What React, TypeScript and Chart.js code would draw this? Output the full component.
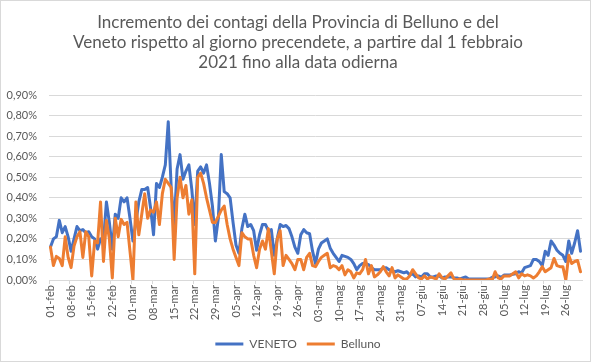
import React, { useEffect, useRef } from 'react';
import { Chart, registerables } from 'chart.js';

Chart.register(...registerables);

const FONT = 'Lato, "Liberation Sans", sans-serif';
const TEXT_COLOR = '#595959';
const GRID_COLOR = '#d9d9d9';

const TITLE_LINES = [
  'Incremento dei contagi della Provincia di Belluno e del',
  'Veneto rispetto al giorno precendete, a partire dal 1 febbraio',
  '2021 fino alla data odierna',
];

const MONTHS = ['feb', 'mar', 'apr', 'mag', 'giu', 'lug'];
const MONTH_DAYS = [28, 31, 30, 31, 30, 31];
const DATES: string[] = [];
MONTHS.forEach((m, i) => {
  for (let d = 1; d <= MONTH_DAYS[i]; d++) DATES.push(String(d).padStart(2, '0') + '-' + m);
});

const VENETO = [
  0.16, 0.20, 0.21, 0.29, 0.23, 0.26, 0.21,
  0.14, 0.20, 0.26, 0.24, 0.245, 0.23, 0.235,
  0.21, 0.20, 0.15, 0.20, 0.19, 0.38, 0.28,
  0.15, 0.32, 0.30, 0.40, 0.38, 0.40, 0.30,
  0.19, 0.28, 0.38, 0.44, 0.44, 0.45, 0.35,
  0.22, 0.47, 0.45, 0.50, 0.56, 0.77, 0.45,
  0.27, 0.54, 0.61, 0.49, 0.53, 0.56, 0.44,
  0.27, 0.53, 0.55, 0.52, 0.56, 0.47, 0.36,
  0.19, 0.30, 0.61, 0.43, 0.42, 0.40, 0.28,
  0.17, 0.13, 0.25, 0.32, 0.26, 0.27, 0.24,
  0.145, 0.22, 0.27, 0.27, 0.24, 0.245, 0.12,
  0.20, 0.27, 0.26, 0.265, 0.25, 0.21, 0.16,
  0.13, 0.22, 0.245, 0.23, 0.225, 0.14, 0.08,
  0.15, 0.18, 0.19, 0.20, 0.155, 0.13, 0.11,
  0.09, 0.12, 0.115, 0.11, 0.10, 0.08, 0.05,
  0.07, 0.08, 0.08, 0.075, 0.06, 0.05, 0.05,
  0.05, 0.057, 0.06, 0.05, 0.045, 0.04, 0.045,
  0.04, 0.035, 0.04, 0.025, 0.03, 0.015, 0.02,
  0.015, 0.03, 0.03, 0.015, 0.015, 0.02, 0.02,
  0.01, 0.015, 0.015, 0.015, 0.01, 0.01, 0.005,
  0.01, 0.015, 0.005, 0.005, 0.005, 0.005, 0.005,
  0.005, 0.005, 0.005, 0.013, 0.015, 0.02, 0.013,
  0.024, 0.024, 0.024, 0.028, 0.03, 0.04, 0.035,
  0.06, 0.065, 0.07, 0.10, 0.10, 0.09, 0.07,
  0.14, 0.12, 0.19, 0.17, 0.145, 0.13, 0.12,
  0.09, 0.19, 0.13, 0.18, 0.24, 0.14,
];

const BELLUNO = [
  0.16, 0.07, 0.115, 0.105, 0.07, 0.21, 0.11,
  0.06, 0.165, 0.21, 0.235, 0.11, 0.235, 0.21,
  0.02, 0.19, 0.18, 0.38, 0.09, 0.29, 0.20,
  0.01, 0.30, 0.21, 0.295, 0.27, 0.28, 0.14,
  0.0, 0.38, 0.22, 0.32, 0.42, 0.30, 0.34,
  0.33, 0.38, 0.27, 0.42, 0.49, 0.47, 0.45,
  0.10, 0.40, 0.50, 0.40, 0.46, 0.32, 0.39,
  0.03, 0.50, 0.52, 0.47, 0.40, 0.34, 0.28,
  0.28, 0.31, 0.34, 0.36, 0.27, 0.20, 0.15,
  0.11, 0.07, 0.23, 0.21, 0.20, 0.20, 0.12,
  0.06, 0.15, 0.19, 0.15, 0.25, 0.14, 0.03,
  0.20, 0.24, 0.07, 0.12, 0.10, 0.08, 0.05,
  0.10, 0.10, 0.05, 0.11, 0.13, 0.07, 0.065,
  0.09, 0.11, 0.12, 0.13, 0.06, 0.07, 0.065,
  0.05, 0.07, 0.025, 0.05, 0.04, 0.01, 0.035,
  0.03, 0.05, 0.10, 0.03, 0.07, 0.015, 0.025,
  0.04, 0.065, 0.04, 0.02, 0.06, 0.01, 0.025,
  0.015, 0.005, 0.005, 0.02, 0.05, 0.03, 0.01,
  0.005, 0.02, 0.005, 0.015, 0.01, 0.005, 0.03,
  0.01, 0.005, 0.02, 0.035, 0.005, 0.0, 0.005,
  0.0, 0.0, 0.0, 0.0, 0.0, 0.0, 0.0,
  0.0, 0.0, 0.005, 0.0, 0.04, 0.01, 0.005,
  0.02, 0.02, 0.02, 0.03, 0.04, 0.01, 0.03,
  0.02, 0.025, 0.02, 0.01, 0.02, 0.04, 0.065,
  0.04, 0.05, 0.06, 0.105, 0.07, 0.065, 0.065,
  0.0, 0.12, 0.08, 0.09, 0.095, 0.04,
];

const SERIES_NAMES = ['VENETO', 'Belluno'];
const SERIES_COLORS = ['#4472C4', '#ED7D31'];
const Y_MAX = 0.9;
const Y_STEP = 0.1;
const LABEL_EVERY = 7;

const borderPlugin = {
  id: 'outerBorder',
  beforeDraw(chart: any) {
    const ctx = chart.ctx;
    ctx.save();
    ctx.fillStyle = '#ffffff';
    ctx.fillRect(0, 0, chart.width, chart.height);
    ctx.strokeStyle = GRID_COLOR;
    ctx.lineWidth = 1;
    ctx.strokeRect(0.5, 0.5, 590, 361);
    ctx.restore();
  },
};

export default function App() {
  const ref = useRef<HTMLCanvasElement | null>(null);

  useEffect(() => {
    if (!ref.current) return;
    const chart = new Chart(ref.current, {
      type: 'line',
      data: {
        labels: DATES,
        datasets: [
          {
            label: SERIES_NAMES[0],
            data: VENETO,
            borderColor: SERIES_COLORS[0],
            backgroundColor: SERIES_COLORS[0],
            borderWidth: 3,
            pointRadius: 0,
            tension: 0,
            borderJoinStyle: 'round',
            borderCapStyle: 'round',
            order: 1,
          },
          {
            label: SERIES_NAMES[1],
            data: BELLUNO,
            borderColor: SERIES_COLORS[1],
            backgroundColor: SERIES_COLORS[1],
            borderWidth: 3,
            pointRadius: 0,
            tension: 0,
            borderJoinStyle: 'round',
            borderCapStyle: 'round',
            order: 0,
          },
        ],
      },
      options: {
        responsive: false,
        animation: false,
        layout: { padding: { left: 0, right: 0, top: 0, bottom: 4 } },
        plugins: {
          title: {
            display: true,
            text: TITLE_LINES,
            color: TEXT_COLOR,
            font: { family: FONT, size: 17, weight: 'normal', lineHeight: '19.75px' },
            padding: { top: 13, bottom: 22.75 },
          },
          legend: {
            display: true,
            position: 'bottom',
            labels: {
              usePointStyle: true,
              pointStyle: 'line',
              pointStyleWidth: 28,
              color: TEXT_COLOR,
              font: { family: FONT, size: 12 },
              padding: 10,
              sort: (a: any, b: any) => a.datasetIndex - b.datasetIndex,
            },
          },
          tooltip: { enabled: false },
        },
        scales: {
          x: {
            type: 'category',
            offset: true,
            grid: {
              display: true,
              drawOnChartArea: false,
              drawTicks: true,
              tickLength: 4,
              offset: true,
              color: (ctx: any) =>
                typeof ctx.index === 'number' && ctx.index % LABEL_EVERY === 0 ? GRID_COLOR : 'rgba(0,0,0,0)',
            },
            border: { display: true, color: GRID_COLOR, width: 1 },
            ticks: {
              autoSkip: false,
              maxRotation: 90,
              minRotation: 90,
              padding: 1,
              color: TEXT_COLOR,
              font: { family: FONT, size: 11 },
              callback: (_v: any, i: number) => (i % LABEL_EVERY === 0 ? DATES[i] : ''),
            },
            afterFit: (s: any) => {
              s.height = 48;
            },
          },
          y: {
            type: 'linear',
            position: 'left',
            min: 0,
            max: Y_MAX,
            grid: { color: GRID_COLOR, lineWidth: 1, drawTicks: false },
            border: { display: false },
            ticks: {
              stepSize: Y_STEP,
              padding: 12,
              color: TEXT_COLOR,
              font: { family: FONT, size: 11 },
              callback: (v: any) => Number(v).toFixed(2).replace('.', ',') + '%',
            },
            afterFit: (s: any) => {
              s.width = 49;
            },
          },
          yRight: {
            type: 'linear',
            position: 'right',
            display: true,
            grid: { display: false, drawTicks: false },
            border: { display: false },
            ticks: { display: false },
            afterFit: (s: any) => {
              s.width = 14;
            },
          },
        },
      },
      plugins: [borderPlugin],
    } as any);
    return () => chart.destroy();
  }, []);

  return (
    <div style={{ position: 'absolute', left: 0, top: 0, width: 596, height: 364 }}>
      <canvas ref={ref} width={596} height={364} style={{ width: 596, height: 364, display: 'block' }} />
    </div>
  );
}
